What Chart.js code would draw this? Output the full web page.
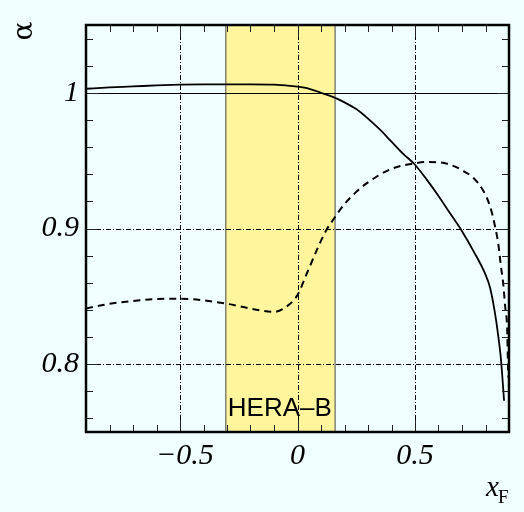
<!DOCTYPE html>
<html>
<head>
<meta charset="utf-8">
<script src="https://cdn.jsdelivr.net/npm/chart.js@4"></script>
<style>
  html, body { margin: 0; padding: 0; background: #f0ffff; }
  #wrap { width: 524px; height: 512px; }
</style>
</head>
<body>
<div id="wrap"><canvas id="chart" width="524" height="512"></canvas></div>
<script>
/* ===== DATA ===== */
const solidX = [-0.9, -0.8, -0.7, -0.6, -0.5, -0.4, -0.3, -0.2, -0.1, 0, 0.05, 0.1, 0.15, 0.2, 0.25, 0.3, 0.35, 0.4, 0.45, 0.5, 0.55, 0.6, 0.65, 0.7, 0.75, 0.8, 0.82, 0.84, 0.855, 0.865, 0.872, 0.879];
const solidY = [1.003, 1.004, 1.0047, 1.0055, 1.006, 1.0062, 1.0062, 1.0062, 1.006, 1.0045, 1.003, 1.0, 0.997, 0.993, 0.988, 0.981, 0.973, 0.964, 0.955, 0.947, 0.936, 0.924, 0.911, 0.898, 0.883, 0.866, 0.856, 0.838, 0.82, 0.805, 0.79, 0.773];

const dashedX = [-0.9, -0.8, -0.7, -0.6, -0.5, -0.4, -0.3, -0.2, -0.1, -0.05, 0, 0.04, 0.087, 0.12, 0.15, 0.2, 0.25, 0.3, 0.4, 0.5, 0.55, 0.6, 0.65, 0.7, 0.75, 0.79, 0.82, 0.84, 0.855, 0.865, 0.875, 0.885, 0.892, 0.896, 0.898];
const dashedY = [0.841, 0.8445, 0.8465, 0.848, 0.8483, 0.847, 0.8445, 0.841, 0.8385, 0.842, 0.851, 0.867, 0.886, 0.898, 0.906, 0.918, 0.927, 0.934, 0.944, 0.948, 0.949, 0.9488, 0.947, 0.943, 0.937, 0.928, 0.916, 0.902, 0.888, 0.873, 0.86, 0.84, 0.827, 0.797, 0.79];

const bandRange = [-0.305, 0.16];
const bandLabel = "HERA\u2013B";

const xTicks = [-0.5, 0, 0.5];
const xTickLabels = ["\u22120.5", "0", "0.5"];
const yTicks = [0.8, 0.9, 1];
const yTickLabels = ["0.8", "0.9", "1"];

const xMinor = [-0.8, -0.7, -0.6, -0.5, -0.4, -0.3, -0.2, -0.1, 0, 0.1, 0.2, 0.3, 0.4, 0.5, 0.6, 0.7, 0.8];
const yMinor = [0.76, 0.78, 0.8, 0.82, 0.84, 0.86, 0.88, 0.9, 0.92, 0.94, 0.96, 0.98, 1.0, 1.02, 1.04];

/* ===== HELPERS ===== */
function toPoints(xs, ys) {
  return xs.map((x, i) => ({ x: x, y: ys[i] }));
}

/* ===== DECORATIONS ===== */
const frame = {
  id: "frame",
  beforeDatasetsDraw(chart) {
    const ctx = chart.ctx;
    const a = chart.chartArea;
    const xs = chart.scales.x;
    const ys = chart.scales.y;
    ctx.save();

    // yellow band
    const b0 = xs.getPixelForValue(bandRange[0]);
    const b1 = xs.getPixelForValue(bandRange[1]);
    ctx.fillStyle = "#fff59d";
    ctx.fillRect(b0, a.top, b1 - b0, a.bottom - a.top);
    ctx.strokeStyle = "#666";
    ctx.lineWidth = 1.2;
    ctx.beginPath();
    ctx.moveTo(b0, a.top); ctx.lineTo(b0, a.bottom);
    ctx.moveTo(b1, a.top); ctx.lineTo(b1, a.bottom);
    ctx.stroke();

    ctx.fillStyle = "#000";
    ctx.font = "26px 'Liberation Sans', Arial, sans-serif";
    ctx.textAlign = "left";
    ctx.textBaseline = "alphabetic";
    ctx.fillText(bandLabel, b0 + 2, a.bottom - 16);

    // dash-dot grid
    ctx.strokeStyle = "#000";
    ctx.lineWidth = 1;
    ctx.setLineDash([5, 2, 1, 2]);
    ctx.beginPath();
    xTicks.forEach(v => {
      const p = Math.round(xs.getPixelForValue(v)) + 0.5;
      ctx.moveTo(p, a.top); ctx.lineTo(p, a.bottom);
    });
    yTicks.filter(v => v !== 1).forEach(v => {
      const p = Math.round(ys.getPixelForValue(v)) + 0.5;
      ctx.moveTo(a.left, p); ctx.lineTo(a.right, p);
    });
    ctx.stroke();
    ctx.setLineDash([]);

    // reference line at 1
    const p1 = Math.round(ys.getPixelForValue(1)) + 0.5;
    ctx.lineWidth = 1.2;
    ctx.beginPath();
    ctx.moveTo(a.left, p1); ctx.lineTo(a.right, p1);
    ctx.stroke();
    ctx.restore();
  },
  afterDatasetsDraw(chart) {
    const ctx = chart.ctx;
    const a = chart.chartArea;
    const xs = chart.scales.x;
    const ys = chart.scales.y;
    ctx.save();

    // ticks on all four sides
    ctx.strokeStyle = "#222";
    ctx.lineWidth = 1;
    ctx.beginPath();
    xMinor.forEach(v => {
      const p = Math.round(xs.getPixelForValue(v)) + 0.5;
      const len = xTicks.includes(v) ? 12 : 7;
      ctx.moveTo(p, a.bottom); ctx.lineTo(p, a.bottom - len);
      ctx.moveTo(p, a.top); ctx.lineTo(p, a.top + len);
    });
    yMinor.forEach(v => {
      const p = Math.round(ys.getPixelForValue(v)) + 0.5;
      const len = yTicks.some(t => Math.abs(t - v) < 1e-6) ? 12 : 7;
      ctx.moveTo(a.left, p); ctx.lineTo(a.left + len, p);
      ctx.moveTo(a.right, p); ctx.lineTo(a.right - len, p);
    });
    ctx.stroke();

    // box
    ctx.lineWidth = 2.5;
    ctx.strokeStyle = "#000";
    ctx.strokeRect(a.left, a.top, a.right - a.left, a.bottom - a.top);

    // tick labels
    ctx.fillStyle = "#000";
    ctx.font = "italic 30px 'Liberation Serif', 'Times New Roman', serif";
    ctx.textAlign = "center";
    ctx.textBaseline = "alphabetic";
    xTicks.forEach((v, i) => {
      let p = xs.getPixelForValue(v);
      if (xTickLabels[i].startsWith("\u2212")) p += 5;
      ctx.fillText(xTickLabels[i], p, a.bottom + 32);
    });
    ctx.textAlign = "right";
    ctx.textBaseline = "middle";
    yTicks.forEach((v, i) => {
      ctx.fillText(yTickLabels[i], a.left - 7, ys.getPixelForValue(v));
    });

    // axis titles
    ctx.textAlign = "left";
    ctx.textBaseline = "alphabetic";
    ctx.font = "italic 29px 'Liberation Serif', 'Times New Roman', serif";
    ctx.fillText("x", 486, 496);
    ctx.font = "19px 'Liberation Serif', 'Times New Roman', serif";
    ctx.fillText("F", 498, 503);

    ctx.save();
    ctx.translate(25, 31);
    ctx.rotate(-Math.PI / 2);
    ctx.font = "28px 'DejaVu Serif', 'Liberation Serif', serif";
    ctx.textAlign = "center";
    ctx.textBaseline = "middle";
    ctx.fillText("\u03b1", 0, 0);
    ctx.restore();

    ctx.restore();
  }
};

/* ===== CHART ===== */
new Chart(document.getElementById("chart"), {
  type: "scatter",
  data: {
    datasets: [
      {
        data: toPoints(solidX, solidY),
        showLine: true,
        borderColor: "#000",
        borderWidth: 1.8,
        pointRadius: 0,
        cubicInterpolationMode: "monotone"
      },
      {
        data: toPoints(dashedX, dashedY),
        showLine: true,
        borderColor: "#000",
        borderWidth: 2,
        borderDash: [7, 5],
        pointRadius: 0,
        cubicInterpolationMode: "monotone"
      }
    ]
  },
  options: {
    responsive: false,
    animation: false,
    layout: { padding: { left: 86, right: 15, top: 25, bottom: 80 } },
    plugins: { legend: { display: false }, tooltip: { enabled: false } },
    scales: {
      x: { type: "linear", min: -0.9, max: 0.9, display: false },
      y: { type: "linear", min: 0.75, max: 1.05, display: false }
    }
  },
  plugins: [frame]
});
</script>
</body>
</html>
